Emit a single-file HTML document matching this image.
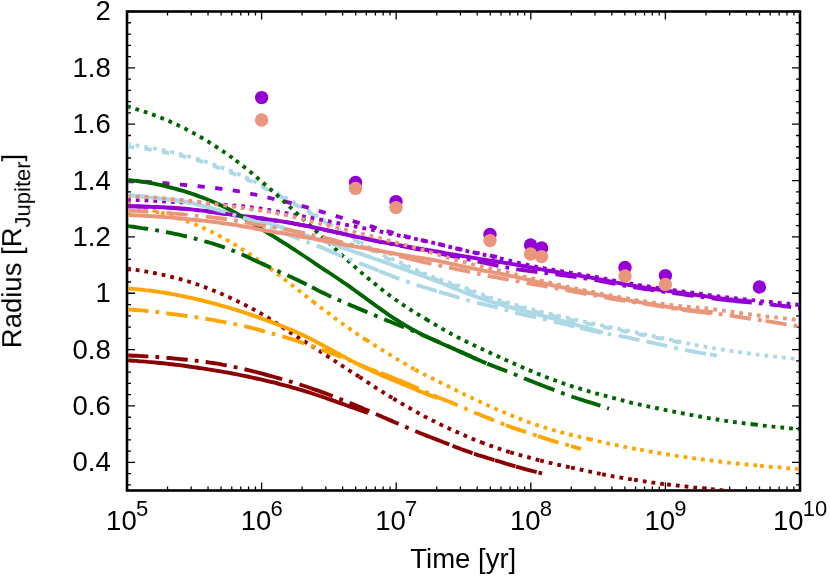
<!DOCTYPE html>
<html><head><meta charset="utf-8"><title>Radius evolution</title>
<style>html,body{margin:0;padding:0;background:#fff}svg{display:block}text{font-family:"Liberation Sans",sans-serif;fill:#000}</style></head><body>
<svg width="830" height="576" viewBox="0 0 830 576">
<rect width="830" height="576" fill="#fff"/>
<defs><clipPath id="cp"><rect x="128.2" y="11.5" width="670.8" height="478.8"/></clipPath></defs>
<path d="M127.0,484.86 h4.0 M800.0,484.86 h-4.0 M127.0,473.59 h4.0 M800.0,473.59 h-4.0 M127.0,462.32 h8.0 M800.0,462.32 h-8.0 M127.0,451.05 h4.0 M800.0,451.05 h-4.0 M127.0,439.78 h4.0 M800.0,439.78 h-4.0 M127.0,428.51 h4.0 M800.0,428.51 h-4.0 M127.0,417.24 h4.0 M800.0,417.24 h-4.0 M127.0,405.97 h8.0 M800.0,405.97 h-8.0 M127.0,394.70 h4.0 M800.0,394.70 h-4.0 M127.0,383.43 h4.0 M800.0,383.43 h-4.0 M127.0,372.16 h4.0 M800.0,372.16 h-4.0 M127.0,360.89 h4.0 M800.0,360.89 h-4.0 M127.0,349.62 h8.0 M800.0,349.62 h-8.0 M127.0,338.35 h4.0 M800.0,338.35 h-4.0 M127.0,327.08 h4.0 M800.0,327.08 h-4.0 M127.0,315.81 h4.0 M800.0,315.81 h-4.0 M127.0,304.54 h4.0 M800.0,304.54 h-4.0 M127.0,293.26 h8.0 M800.0,293.26 h-8.0 M127.0,281.99 h4.0 M800.0,281.99 h-4.0 M127.0,270.72 h4.0 M800.0,270.72 h-4.0 M127.0,259.45 h4.0 M800.0,259.45 h-4.0 M127.0,248.18 h4.0 M800.0,248.18 h-4.0 M127.0,236.91 h8.0 M800.0,236.91 h-8.0 M127.0,225.64 h4.0 M800.0,225.64 h-4.0 M127.0,214.37 h4.0 M800.0,214.37 h-4.0 M127.0,203.10 h4.0 M800.0,203.10 h-4.0 M127.0,191.83 h4.0 M800.0,191.83 h-4.0 M127.0,180.56 h8.0 M800.0,180.56 h-8.0 M127.0,169.29 h4.0 M800.0,169.29 h-4.0 M127.0,158.02 h4.0 M800.0,158.02 h-4.0 M127.0,146.75 h4.0 M800.0,146.75 h-4.0 M127.0,135.48 h4.0 M800.0,135.48 h-4.0 M127.0,124.21 h8.0 M800.0,124.21 h-8.0 M127.0,112.94 h4.0 M800.0,112.94 h-4.0 M127.0,101.66 h4.0 M800.0,101.66 h-4.0 M127.0,90.39 h4.0 M800.0,90.39 h-4.0 M127.0,79.12 h4.0 M800.0,79.12 h-4.0 M127.0,67.85 h8.0 M800.0,67.85 h-8.0 M127.0,56.58 h4.0 M800.0,56.58 h-4.0 M127.0,45.31 h4.0 M800.0,45.31 h-4.0 M127.0,34.04 h4.0 M800.0,34.04 h-4.0 M127.0,22.77 h4.0 M800.0,22.77 h-4.0 M127.0,11.50 h8.0 M800.0,11.50 h-8.0 M127.00,490.5 v-8.0 M127.00,11.5 v8.0 M167.52,490.5 v-4.0 M167.52,11.5 v4.0 M191.22,490.5 v-4.0 M191.22,11.5 v4.0 M208.04,490.5 v-4.0 M208.04,11.5 v4.0 M221.08,490.5 v-4.0 M221.08,11.5 v4.0 M231.74,490.5 v-4.0 M231.74,11.5 v4.0 M240.75,490.5 v-4.0 M240.75,11.5 v4.0 M248.56,490.5 v-4.0 M248.56,11.5 v4.0 M255.44,490.5 v-4.0 M255.44,11.5 v4.0 M261.60,490.5 v-8.0 M261.60,11.5 v8.0 M302.12,490.5 v-4.0 M302.12,11.5 v4.0 M325.82,490.5 v-4.0 M325.82,11.5 v4.0 M342.64,490.5 v-4.0 M342.64,11.5 v4.0 M355.68,490.5 v-4.0 M355.68,11.5 v4.0 M366.34,490.5 v-4.0 M366.34,11.5 v4.0 M375.35,490.5 v-4.0 M375.35,11.5 v4.0 M383.16,490.5 v-4.0 M383.16,11.5 v4.0 M390.04,490.5 v-4.0 M390.04,11.5 v4.0 M396.20,490.5 v-8.0 M396.20,11.5 v8.0 M436.72,490.5 v-4.0 M436.72,11.5 v4.0 M460.42,490.5 v-4.0 M460.42,11.5 v4.0 M477.24,490.5 v-4.0 M477.24,11.5 v4.0 M490.28,490.5 v-4.0 M490.28,11.5 v4.0 M500.94,490.5 v-4.0 M500.94,11.5 v4.0 M509.95,490.5 v-4.0 M509.95,11.5 v4.0 M517.76,490.5 v-4.0 M517.76,11.5 v4.0 M524.64,490.5 v-4.0 M524.64,11.5 v4.0 M530.80,490.5 v-8.0 M530.80,11.5 v8.0 M571.32,490.5 v-4.0 M571.32,11.5 v4.0 M595.02,490.5 v-4.0 M595.02,11.5 v4.0 M611.84,490.5 v-4.0 M611.84,11.5 v4.0 M624.88,490.5 v-4.0 M624.88,11.5 v4.0 M635.54,490.5 v-4.0 M635.54,11.5 v4.0 M644.55,490.5 v-4.0 M644.55,11.5 v4.0 M652.36,490.5 v-4.0 M652.36,11.5 v4.0 M659.24,490.5 v-4.0 M659.24,11.5 v4.0 M665.40,490.5 v-8.0 M665.40,11.5 v8.0 M705.92,490.5 v-4.0 M705.92,11.5 v4.0 M729.62,490.5 v-4.0 M729.62,11.5 v4.0 M746.44,490.5 v-4.0 M746.44,11.5 v4.0 M759.48,490.5 v-4.0 M759.48,11.5 v4.0 M770.14,490.5 v-4.0 M770.14,11.5 v4.0 M779.15,490.5 v-4.0 M779.15,11.5 v4.0 M786.96,490.5 v-4.0 M786.96,11.5 v4.0 M793.84,490.5 v-4.0 M793.84,11.5 v4.0 M800.00,490.5 v-8.0 M800.00,11.5 v8.0" stroke="#000" stroke-width="1.3" fill="none"/>
<rect x="127.0" y="11.5" width="673.0" height="479.0" fill="none" stroke="#000" stroke-width="2.6"/>
<g fill="none" stroke-width="3.9" stroke-linejoin="round" clip-path="url(#cp)">
<path d="M127.0,144.0 L130.0,144.4 L133.0,144.9 L136.0,145.3 L139.0,145.8 L142.0,146.3 L145.0,146.8 L148.0,147.3 L151.0,147.8 L154.0,148.4 L157.0,149.0 L160.0,149.6 L163.1,150.2 L166.1,150.8 L169.1,151.5 L172.1,152.2 L175.1,152.9 L178.1,153.6 L181.1,154.4 L184.1,155.2 L187.1,156.0 L190.1,156.9 L193.1,157.7 L196.1,158.6 L199.1,159.5 L202.1,160.5 L205.1,161.5 L208.1,162.6 L211.1,163.6 L214.1,164.7 L217.1,165.8 L220.1,166.9 L223.1,168.1 L226.1,169.3 L229.2,170.4 L232.2,171.6 L235.2,172.8 L238.2,174.0 L241.2,175.3 L244.2,176.6 L247.2,178.0 L250.2,179.5 L253.2,180.9 L256.2,182.5 L259.2,184.0 L262.2,185.5 L265.2,187.1 L268.2,188.6 L271.2,190.1 L274.2,191.6 L277.2,193.1 L280.2,194.7 L283.2,196.2 L286.2,197.9 L289.2,199.6 L292.2,201.3 L295.2,203.0 L298.3,204.8 L301.3,206.6 L304.3,208.4 L307.3,210.2 L310.3,211.9 L313.3,213.7 L316.3,215.5 L319.3,217.4 L322.3,219.2 L325.3,221.1 L328.3,222.9 L331.3,224.8 L334.3,226.6 L337.3,228.5 L340.3,230.3 L343.3,232.1 L346.3,233.8 L349.3,235.6 L352.3,237.3 L355.3,239.1 L358.3,240.9 L361.3,242.7 L364.4,244.5 L367.4,246.2 L370.4,248.0 L373.4,249.7 L376.4,251.3 L379.4,252.9 L382.4,254.4 L385.4,255.9 L388.4,257.3 L391.4,258.6 L394.4,260.0 L397.4,261.3 L400.4,262.6 L403.4,264.0 L406.4,265.4 L409.4,266.8 L412.4,268.2 L415.4,269.6 L418.4,271.0 L421.4,272.3 L424.4,273.6 L427.4,274.8 L430.5,276.0 L433.5,277.2 L436.5,278.3 L439.5,279.4 L442.5,280.4 L445.5,281.4 L448.5,282.4 L451.5,283.3 L454.5,284.3 L457.5,285.3 L460.5,286.3 L463.5,287.3 L466.5,288.4 L469.5,289.5 L472.5,290.7 L475.5,291.9 L478.5,293.0 L481.5,294.2 L484.5,295.3 L487.5,296.4 L490.5,297.5 L493.5,298.5 L496.5,299.4 L499.6,300.3 L502.6,301.2 L505.6,302.0 L508.6,302.9 L511.6,303.7 L514.6,304.6 L517.6,305.4 L520.6,306.2 L523.6,307.1 L526.6,307.9 L529.6,308.7 L532.6,309.5 L535.6,310.3 L538.6,311.0 L541.6,311.8 L544.6,312.5 L547.6,313.2 L550.6,313.9 L553.6,314.6 L556.6,315.3 L559.6,316.0 L562.6,316.7 L565.7,317.4 L568.7,318.1 L571.7,318.8 L574.7,319.5 L577.7,320.2 L580.7,320.9 L583.7,321.6 L586.7,322.2 L589.7,322.9 L592.7,323.5 L595.7,324.2 L598.7,324.8 L601.7,325.4 L604.7,326.0 L607.7,326.6 L610.7,327.2 L613.7,327.9 L616.7,328.5 L619.7,329.1 L622.7,329.7 L625.7,330.3 L628.7,330.9 L631.8,331.6 L634.8,332.2 L637.8,332.8 L640.8,333.5 L643.8,334.1 L646.8,334.8 L649.8,335.4 L652.8,336.0 L655.8,336.6 L658.8,337.2 L661.8,337.8 L664.8,338.4 L667.8,339.0 L670.8,339.7 L673.8,340.3 L676.8,341.0 L679.8,341.6 L682.8,342.3 L685.8,343.0 L688.8,343.6 L691.8,344.3 L694.8,344.9 L697.8,345.5 L700.9,346.1 L703.9,346.6 L706.9,347.1 L709.9,347.6 L712.9,348.1 L715.9,348.6 L718.9,349.1 L721.9,349.5 L724.9,350.0 L727.9,350.5 L730.9,350.9 L733.9,351.4 L736.9,351.8 L739.9,352.2 L742.9,352.6 L745.9,353.1 L748.9,353.5 L751.9,353.9 L754.9,354.2 L757.9,354.6 L760.9,355.0 L763.9,355.3 L767.0,355.7 L770.0,356.0 L773.0,356.4 L776.0,356.7 L779.0,357.0 L782.0,357.4 L785.0,357.7 L788.0,358.1 L791.0,358.4 L794.0,358.8 L797.0,359.1 L800.0,359.5" stroke="#add8e6" stroke-dasharray="3.8 5.0"/>
<path d="M127.0,146.8 L130.0,147.1 L133.0,147.4 L136.0,147.8 L139.0,148.1 L142.0,148.5 L145.0,148.9 L148.0,149.4 L151.0,149.8 L154.0,150.3 L156.9,150.8 L159.9,151.4 L162.9,151.9 L165.9,152.5 L168.9,153.1 L171.9,153.7 L174.9,154.4 L177.9,155.0 L180.9,155.7 L183.9,156.4 L186.9,157.2 L189.9,158.0 L192.9,158.9 L195.9,159.8 L198.9,160.7 L201.9,161.7 L204.9,162.7 L207.9,163.8 L210.9,164.9 L213.8,166.0 L216.8,167.2 L219.8,168.3 L222.8,169.5 L225.8,170.6 L228.8,171.8 L231.8,173.0 L234.8,174.2 L237.8,175.4 L240.8,176.6 L243.8,177.9 L246.8,179.3 L249.8,180.8 L252.8,182.2 L255.8,183.8 L258.8,185.3 L261.8,186.8 L264.8,188.4 L267.8,189.9 L270.7,191.4 L273.7,192.9 L276.7,194.4 L279.7,195.9 L282.7,197.5 L285.7,199.1 L288.7,200.8 L291.7,202.5 L294.7,204.2 L297.7,206.0 L300.7,207.8 L303.7,209.6 L306.7,211.3 L309.7,213.1 L312.7,214.9 L315.7,216.7 L318.7,218.5 L321.7,220.3 L324.6,222.2 L327.6,224.0 L330.6,225.9 L333.6,227.7 L336.6,229.6 L339.6,231.4 L342.6,233.2 L345.6,234.9 L348.6,236.7 L351.6,238.4 L354.6,240.2 L357.6,241.9 L360.6,243.7 L363.6,245.5 L366.6,247.2 L369.6,249.0 L372.6,250.7 L375.6,252.4 L378.6,254.0 L381.5,255.6 L384.5,257.1 L387.5,258.5 L390.5,259.9 L393.5,261.2 L396.5,262.6 L399.5,263.9 L402.5,265.2 L405.5,266.5 L408.5,267.9 L411.5,269.3 L414.5,270.7 L417.5,272.0 L420.5,273.4 L423.5,274.7 L426.5,275.9 L429.5,277.1 L432.5,278.3 L435.5,279.4 L438.4,280.5 L441.4,281.5 L444.4,282.5 L447.4,283.5 L450.4,284.5 L453.4,285.4 L456.4,286.4 L459.4,287.4 L462.4,288.4 L465.4,289.5 L468.4,290.6 L471.4,291.8 L474.4,292.9 L477.4,294.1 L480.4,295.2 L483.4,296.4 L486.4,297.5 L489.4,298.6 L492.4,299.6 L495.3,300.5 L498.3,301.5 L501.3,302.3 L504.3,303.2 L507.3,304.0 L510.3,304.9 L513.3,305.7 L516.3,306.5 L519.3,307.4 L522.3,308.2 L525.3,309.0 L528.3,309.8 L531.3,310.6 L534.3,311.4 L537.3,312.1 L540.3,312.9 L543.3,313.6 L546.3,314.3 L549.2,315.0 L552.2,315.7 L555.2,316.4 L558.2,317.0 L561.2,317.7 L564.2,318.4 L567.2,319.1 L570.2,319.8 L573.2,320.5 L576.2,321.2 L579.2,321.9 L582.2,322.5 L585.2,323.2 L588.2,323.8 L591.2,324.4 L594.2,325.1 L597.2,325.7 L600.2,326.3 L603.2,326.9 L606.1,327.5 L609.1,328.1 L612.1,328.7 L615.1,329.3 L618.1,330.0 L621.1,330.6 L624.1,331.2 L627.1,331.8 L630.1,332.4 L633.1,333.0 L636.1,333.6 L639.1,334.3 L642.1,334.9 L645.1,335.5 L648.1,336.1 L651.1,336.7 L654.1,337.3 L657.1,337.9 L660.1,338.5 L663.0,339.0 L666.0,339.6 L669.0,340.2 L672.0,340.8 L675.0,341.4 L678.0,342.0 L681.0,342.6 L684.0,343.3 L687.0,343.9 L690.0,344.5" stroke="#add8e6" stroke-dasharray="7.2 10.5"/>
<path d="M127.0,199.7 L130.0,199.8 L133.0,199.9 L136.0,200.0 L139.0,200.1 L142.0,200.3 L145.0,200.4 L148.0,200.5 L151.0,200.7 L154.0,200.9 L157.0,201.0 L160.0,201.2 L163.1,201.4 L166.1,201.6 L169.1,201.7 L172.1,201.9 L175.1,202.0 L178.1,202.2 L181.1,202.3 L184.1,202.4 L187.1,202.5 L190.1,202.6 L193.1,202.7 L196.1,202.8 L199.1,202.9 L202.1,203.1 L205.1,203.2 L208.1,203.4 L211.1,203.7 L214.1,203.9 L217.1,204.1 L220.1,204.4 L223.1,204.6 L226.1,204.9 L229.2,205.1 L232.2,205.4 L235.2,205.6 L238.2,205.9 L241.2,206.2 L244.2,206.5 L247.2,206.8 L250.2,207.2 L253.2,207.6 L256.2,208.0 L259.2,208.5 L262.2,209.0 L265.2,209.5 L268.2,210.0 L271.2,210.5 L274.2,211.1 L277.2,211.6 L280.2,212.1 L283.2,212.7 L286.2,213.2 L289.2,213.8 L292.2,214.4 L295.2,215.0 L298.3,215.5 L301.3,216.1 L304.3,216.6 L307.3,217.2 L310.3,217.7 L313.3,218.3 L316.3,218.8 L319.3,219.4 L322.3,220.0 L325.3,220.6 L328.3,221.2 L331.3,221.8 L334.3,222.4 L337.3,223.0 L340.3,223.6 L343.3,224.2 L346.3,224.8 L349.3,225.4 L352.3,225.9 L355.3,226.5 L358.3,227.1 L361.3,227.7 L364.4,228.3 L367.4,228.9 L370.4,229.5 L373.4,230.1 L376.4,230.7 L379.4,231.4 L382.4,232.0 L385.4,232.7 L388.4,233.3 L391.4,234.0 L394.4,234.6 L397.4,235.2 L400.4,235.9 L403.4,236.5 L406.4,237.1 L409.4,237.7 L412.4,238.3 L415.4,238.9 L418.4,239.5 L421.4,240.2 L424.4,240.8 L427.4,241.5 L430.5,242.2 L433.5,242.9 L436.5,243.6 L439.5,244.3 L442.5,245.1 L445.5,245.8 L448.5,246.5 L451.5,247.3 L454.5,248.0 L457.5,248.7 L460.5,249.5 L463.5,250.2 L466.5,250.9 L469.5,251.6 L472.5,252.3 L475.5,252.9 L478.5,253.6 L481.5,254.3 L484.5,254.9 L487.5,255.6 L490.5,256.2 L493.5,256.9 L496.5,257.6 L499.6,258.3 L502.6,259.0 L505.6,259.7 L508.6,260.4 L511.6,261.2 L514.6,261.9 L517.6,262.6 L520.6,263.3 L523.6,264.0 L526.6,264.7 L529.6,265.4 L532.6,266.0 L535.6,266.6 L538.6,267.2 L541.6,267.7 L544.6,268.3 L547.6,268.8 L550.6,269.4 L553.6,269.9 L556.6,270.4 L559.6,270.9 L562.6,271.4 L565.7,271.9 L568.7,272.3 L571.7,272.8 L574.7,273.3 L577.7,273.8 L580.7,274.3 L583.7,274.8 L586.7,275.3 L589.7,275.8 L592.7,276.3 L595.7,276.9 L598.7,277.5 L601.7,278.1 L604.7,278.7 L607.7,279.3 L610.7,279.9 L613.7,280.5 L616.7,281.0 L619.7,281.6 L622.7,282.2 L625.7,282.7 L628.7,283.3 L631.8,283.8 L634.8,284.3 L637.8,284.8 L640.8,285.3 L643.8,285.8 L646.8,286.2 L649.8,286.7 L652.8,287.2 L655.8,287.6 L658.8,288.1 L661.8,288.5 L664.8,288.9 L667.8,289.4 L670.8,289.8 L673.8,290.2 L676.8,290.6 L679.8,291.1 L682.8,291.5 L685.8,291.9 L688.8,292.3 L691.8,292.7 L694.8,293.1 L697.8,293.6 L700.9,294.0 L703.9,294.4 L706.9,294.8 L709.9,295.2 L712.9,295.6 L715.9,296.0 L718.9,296.4 L721.9,296.8 L724.9,297.2 L727.9,297.5 L730.9,297.9 L733.9,298.2 L736.9,298.5 L739.9,298.8 L742.9,299.1 L745.9,299.5 L748.9,299.8 L751.9,300.1 L754.9,300.4 L757.9,300.7 L760.9,301.1 L763.9,301.4 L767.0,301.7 L770.0,302.0 L773.0,302.3 L776.0,302.6 L779.0,302.9 L782.0,303.2 L785.0,303.5 L788.0,303.8 L791.0,304.1 L794.0,304.4 L797.0,304.7 L800.0,305.0" stroke="#9400d3" stroke-dasharray="3.8 5.0"/>
<path d="M127.0,181.3 L130.0,181.4 L133.0,181.4 L136.0,181.5 L139.0,181.6 L141.9,181.7 L144.9,181.8 L147.9,182.0 L150.9,182.2 L153.9,182.4 L156.9,182.6 L159.9,182.8 L162.9,183.1 L165.8,183.3 L168.8,183.6 L171.8,183.9 L174.8,184.1 L177.8,184.4 L180.8,184.6 L183.8,184.9 L186.8,185.2 L189.8,185.5 L192.7,185.7 L195.7,186.0 L198.7,186.3 L201.7,186.6 L204.7,186.9 L207.7,187.2 L210.7,187.6 L213.7,187.9 L216.6,188.2 L219.6,188.6 L222.6,189.0 L225.6,189.4 L228.6,189.8 L231.6,190.2 L234.6,190.7 L237.6,191.2 L240.5,191.7 L243.5,192.3 L246.5,192.8 L249.5,193.4 L252.5,194.1 L255.5,194.7 L258.5,195.4 L261.5,196.0 L264.5,196.7 L267.4,197.4 L270.4,198.1 L273.4,198.8 L276.4,199.5 L279.4,200.2 L282.4,201.0 L285.4,201.7 L288.4,202.4 L291.3,203.2 L294.3,204.0 L297.3,204.8 L300.3,205.6 L303.3,206.4 L306.3,207.2 L309.3,208.1 L312.3,208.9 L315.2,209.8 L318.2,210.7 L321.2,211.6 L324.2,212.5 L327.2,213.4 L330.2,214.3 L333.2,215.2 L336.2,216.1 L339.2,217.0 L342.1,217.9 L345.1,218.8 L348.1,219.7 L351.1,220.6 L354.1,221.5 L357.1,222.3 L360.1,223.2 L363.1,224.1 L366.0,224.9 L369.0,225.8 L372.0,226.7 L375.0,227.6 L378.0,228.5 L381.0,229.3 L384.0,230.2 L387.0,231.1 L390.0,232.0 L392.9,232.8 L395.9,233.7 L398.9,234.6 L401.9,235.4 L404.9,236.2 L407.9,237.0 L410.9,237.7 L413.9,238.4 L416.8,239.1 L419.8,239.8 L422.8,240.5 L425.8,241.2 L428.8,241.8 L431.8,242.5 L434.8,243.2 L437.8,243.9 L440.8,244.6 L443.7,245.4 L446.7,246.1 L449.7,246.9 L452.7,247.6 L455.7,248.3 L458.7,249.0 L461.7,249.7 L464.7,250.4 L467.6,251.0 L470.6,251.6 L473.6,252.3 L476.6,252.9 L479.6,253.4 L482.6,254.0 L485.6,254.6 L488.6,255.2 L491.5,255.8 L494.5,256.3 L497.5,256.9 L500.5,257.4 L503.5,258.0" stroke="#9400d3" stroke-dasharray="7.2 10.5"/>
<path d="M127.0,268.6 L130.0,269.0 L133.0,269.5 L136.0,269.9 L139.0,270.4 L142.0,270.9 L145.0,271.4 L148.0,271.9 L151.0,272.5 L154.0,273.0 L157.0,273.6 L160.0,274.3 L163.0,274.9 L166.0,275.6 L169.0,276.3 L172.0,277.0 L175.0,277.8 L178.0,278.5 L181.0,279.4 L184.0,280.2 L187.0,281.1 L190.0,282.0 L193.0,283.0 L196.0,284.0 L199.0,285.0 L202.0,286.1 L205.0,287.2 L208.0,288.4 L211.0,289.5 L214.0,290.7 L217.0,292.0 L220.0,293.2 L223.0,294.5 L226.0,295.9 L229.0,297.2 L232.0,298.6 L235.0,300.1 L238.0,301.5 L241.0,303.0 L244.0,304.5 L247.0,306.0 L250.0,307.5 L253.0,309.1 L256.0,310.7 L259.0,312.4 L262.0,314.1 L265.0,315.8 L268.0,317.7 L271.0,319.6 L274.0,321.6 L277.0,323.6 L280.0,325.6 L283.0,327.6 L286.0,329.6 L289.0,331.6 L292.0,333.6 L295.0,335.5 L298.0,337.4 L301.0,339.3 L304.0,341.2 L307.0,343.0 L310.0,344.9 L313.0,346.8 L316.0,348.8 L319.0,350.7 L322.0,352.6 L325.0,354.6 L328.0,356.5 L331.0,358.5 L334.0,360.5 L337.0,362.5 L340.0,364.5 L343.0,366.4 L346.0,368.3 L349.0,370.3 L352.0,372.2 L355.0,374.1 L358.0,376.0 L359.4,376.9 M359.4,376.9 L361.0,377.9 L364.0,379.9 L367.0,381.8 L370.0,383.8 L373.0,385.8 L376.0,387.8 L379.0,389.7 L382.0,391.6 L385.0,393.5 L388.0,395.4 L391.0,397.2 L393.4,398.6 M393.4,398.6 L394.0,399.0 L397.0,400.8 L400.0,402.6 L403.0,404.3 L406.0,406.1 L409.0,407.8 L412.0,409.5 L415.0,411.2 L418.0,412.9 L421.0,414.6 L424.0,416.2 L427.0,417.7 L430.0,419.3 L433.0,420.8 L436.0,422.3 L439.0,423.8 L442.0,425.2 L445.0,426.6 L448.0,428.0 L451.0,429.4 L454.0,430.8 L457.0,432.1 L460.0,433.5 L463.0,434.8 L466.0,436.1 L469.0,437.4 L472.0,438.7 L475.0,439.9 L478.0,441.1 L481.0,442.2 L481.2,442.3 M481.2,442.3 L484.0,443.4 L487.0,444.5 L490.0,445.6 L493.0,446.6 L496.0,447.7 L499.0,448.7 L502.0,449.7 L505.0,450.7 L508.0,451.6 L510.2,452.3 M510.2,452.3 L511.0,452.5 L514.0,453.4 L517.0,454.3 L520.0,455.1 L523.0,455.9 L526.0,456.7 L529.0,457.5 L532.0,458.3 L535.0,459.1 L538.0,459.9 L540.2,460.5 M540.2,460.5 L541.0,460.7 L544.0,461.5 L547.0,462.2 L550.0,462.9 L553.0,463.6 L556.0,464.4 L559.0,465.0 L562.0,465.7 L565.0,466.3 L568.0,466.9 L571.0,467.6 L571.1,467.6 M571.1,467.6 L574.0,468.2 L577.0,468.9 L580.0,469.5 L583.0,470.1 L586.0,470.8 L589.0,471.4 L592.0,472.1 L595.0,472.7 L598.0,473.3 L601.0,474.0 L602.1,474.2 M602.1,474.2 L604.0,474.6 L607.0,475.2 L610.0,475.7 L613.0,476.3 L616.0,476.8 L619.0,477.3 L622.0,477.8 L625.0,478.3 L628.0,478.8 L631.0,479.3 L634.0,479.8 L634.1,479.8 M634.1,479.8 L637.0,480.2 L640.0,480.7 L643.0,481.1 L646.0,481.6 L649.0,482.0 L652.0,482.5 L655.0,482.9 L658.0,483.3 L661.0,483.7 L664.0,484.1 L667.0,484.4 L667.1,484.4 M667.1,484.4 L670.0,484.8 L673.0,485.1 L676.0,485.4 L679.0,485.7 L682.0,486.1 L685.0,486.4 L688.0,486.7 L691.0,487.0 L694.0,487.4 L697.0,487.7 L700.0,488.0 L703.0,488.3 L706.0,488.6 L709.0,488.9 L712.0,489.2 L715.0,489.5 L718.0,489.8 L721.0,490.1 L724.0,490.4 L727.0,490.7" stroke="#8b0000" stroke-dasharray="3.8 5.0"/>
<path d="M127.0,203.5 L130.0,204.3 L133.0,205.1 L136.0,205.9 L139.0,206.6 L142.0,207.4 L145.0,208.2 L148.0,209.0 L151.0,209.8 L154.0,210.6 L157.0,211.4 L160.0,212.3 L163.1,213.2 L166.1,214.1 L169.1,215.0 L172.1,216.0 L175.1,217.0 L178.1,218.0 L181.1,219.1 L184.1,220.2 L187.1,221.3 L190.1,222.4 L193.1,223.6 L196.1,224.8 L199.1,226.0 L202.1,227.3 L205.1,228.7 L208.1,230.1 L211.1,231.5 L214.1,233.1 L217.1,234.6 L220.1,236.3 L223.1,237.9 L226.1,239.6 L229.2,241.3 L232.2,243.1 L235.2,244.9 L238.2,246.8 L241.2,248.7 L244.2,250.7 L247.2,252.6 L250.2,254.6 L253.2,256.6 L256.2,258.7 L259.2,260.7 L262.2,262.8 L265.2,264.9 L268.2,267.1 L271.2,269.2 L274.2,271.5 L277.2,273.7 L280.2,276.0 L283.2,278.4 L286.2,280.7 L289.2,283.1 L292.2,285.4 L295.2,287.8 L298.3,290.1 L301.3,292.5 L304.3,294.8 L307.3,297.1 L310.3,299.5 L313.1,301.6 M313.1,301.6 L313.3,301.8 L316.3,304.1 L319.3,306.4 L322.3,308.7 L325.3,310.9 L328.3,313.2 L331.3,315.4 L334.3,317.7 L337.3,319.9 L340.3,322.2 L343.3,324.3 L346.3,326.5 L349.3,328.6 L352.3,330.7 L355.3,332.8 L358.3,334.8 L361.3,336.8 L364.4,338.8 L366.0,339.8 M366.0,339.8 L367.4,340.7 L370.4,342.6 L373.4,344.5 L376.4,346.4 L379.4,348.3 L382.4,350.2 L385.4,352.1 L388.4,353.9 L391.4,355.7 L394.4,357.6 L397.4,359.4 L400.4,361.2 L403.4,362.9 L406.4,364.7 L409.4,366.4 L412.4,368.1 L415.3,369.7 M415.3,369.7 L415.4,369.8 L418.4,371.5 L421.4,373.0 L424.4,374.6 L427.4,376.1 L430.5,377.6 L433.5,379.1 L436.5,380.6 L439.5,382.1 L442.5,383.5 L445.5,385.0 L448.5,386.5 L451.5,388.0 L454.5,389.5 L457.5,391.0 L460.5,392.4 L463.5,393.9 L466.5,395.4 L469.5,396.8 L472.5,398.2 L475.5,399.6 L478.5,401.0 L481.5,402.4 L484.5,403.8 L487.5,405.2 L490.5,406.6 L493.5,407.9 L496.5,409.2 L499.6,410.5 L502.6,411.8 L505.6,413.0 L508.6,414.3 L511.6,415.5 L514.6,416.7 L517.6,417.9 L520.6,419.1 L523.6,420.3 L526.6,421.4 L529.6,422.5 L532.6,423.6 L535.6,424.6 L538.6,425.6 L541.6,426.6 L544.6,427.5 L547.6,428.4 L550.6,429.3 L553.6,430.2 L556.6,431.0 L559.6,431.8 L562.6,432.7 L565.7,433.5 L568.7,434.2 L571.7,435.0 L574.7,435.7 L577.7,436.4 L580.7,437.1 L583.7,437.8 L586.7,438.5 L589.1,439.1 M589.1,439.1 L589.7,439.2 L592.7,439.9 L595.7,440.6 L598.7,441.3 L601.7,441.9 L604.7,442.6 L607.7,443.3 L610.7,443.9 L613.7,444.6 L616.7,445.2 L619.7,445.8 L622.7,446.5 L625.7,447.1 L628.7,447.7 L631.8,448.2 L634.8,448.8 L637.8,449.4 L640.1,449.8 M640.1,449.8 L640.8,449.9 L643.8,450.4 L646.8,451.0 L649.8,451.5 L652.8,452.0 L655.8,452.5 L658.8,453.0 L661.8,453.5 L664.8,454.0 L667.8,454.5 L670.8,455.0 L673.8,455.4 L676.8,455.9 L679.8,456.3 L682.8,456.7 L685.8,457.2 L688.8,457.6 L691.8,458.0 L694.8,458.4 L697.8,458.8 L700.9,459.2 L703.9,459.6 L706.9,460.0 L709.9,460.4 L712.9,460.8 L715.9,461.2 L718.9,461.5 L721.9,461.9 L724.9,462.2 L727.9,462.6 L730.9,462.9 L733.9,463.2 L736.9,463.5 L739.9,463.8 L742.9,464.1 L745.9,464.4 L748.9,464.7 L751.9,465.0 L754.9,465.3 L757.9,465.6 L760.1,465.8 M760.1,465.8 L760.9,465.9 L763.9,466.1 L767.0,466.4 L770.0,466.7 L773.0,466.9 L776.0,467.2 L779.0,467.4 L782.0,467.7 L785.0,467.9 L788.0,468.2 L791.0,468.4 L794.0,468.7 L797.0,468.9 L800.0,469.2" stroke="#ffa500" stroke-dasharray="3.8 5.0"/>
<path d="M127.0,106.3 L130.0,107.2 L133.0,108.1 L136.0,109.1 L139.0,110.0 L142.0,111.0 L145.0,111.9 L148.0,113.0 L151.0,114.0 L154.0,115.1 L157.0,116.2 L160.0,117.4 L163.1,118.6 L166.1,119.8 L169.1,121.1 L172.1,122.5 L175.1,123.9 L178.1,125.3 L181.1,126.7 L184.1,128.2 L187.1,129.7 L190.1,131.3 L193.1,132.9 L196.1,134.5 L199.1,136.2 L202.1,138.0 L205.1,139.8 L208.1,141.6 L211.1,143.5 L214.1,145.4 L217.1,147.4 L220.1,149.4 L223.1,151.4 L226.1,153.5 L229.2,155.6 L232.2,157.8 L235.2,160.0 L235.8,160.5 M235.8,160.5 L238.2,162.3 L241.2,164.6 L244.2,167.0 L247.2,169.4 L250.2,171.8 L253.2,174.3 L256.2,176.9 L259.2,179.4 L262.2,182.0 L265.2,184.7 L268.2,187.3 L271.2,190.0 L274.2,192.6 L277.2,195.3 L280.2,198.1 L283.2,200.8 L286.2,203.6 L289.2,206.3 L292.2,209.1 L295.2,211.9 L298.3,214.7 L301.3,217.5 L304.3,220.2 L307.3,223.0 L310.3,225.7 L313.3,228.4 L316.3,231.2 L319.3,233.9 L322.3,236.7 L325.3,239.5 L328.3,242.3 L331.3,245.1 L334.3,247.9 L337.3,250.8 L340.3,253.6 L343.3,256.4 L346.3,259.2 L349.3,261.9 L352.3,264.7 L355.3,267.3 L358.3,270.0 L361.3,272.6 L364.4,275.2 L367.4,277.7 L370.4,280.2 L373.4,282.7 L376.4,285.1 L379.4,287.5 L382.4,289.9 L385.4,292.2 L388.4,294.5 L391.4,296.7 L394.4,298.9 L397.4,301.0 L400.4,303.1 L403.4,305.1 L406.4,307.1 L409.4,309.0 L412.4,310.9 L415.4,312.8 L418.4,314.6 L421.4,316.4 L424.4,318.2 L426.4,319.4 M426.4,319.4 L427.4,320.0 L430.5,321.8 L433.5,323.6 L436.5,325.4 L439.5,327.1 L442.5,328.9 L445.5,330.6 L448.5,332.3 L451.5,334.0 L454.5,335.6 L457.5,337.2 L460.5,338.7 L463.5,340.2 L466.5,341.7 L469.5,343.1 L472.5,344.6 L475.5,346.0 L478.5,347.4 L481.5,348.8 L484.5,350.2 L487.5,351.6 L490.5,353.0 L493.5,354.4 L496.5,355.8 L499.6,357.1 L502.6,358.5 L505.6,359.9 L508.6,361.2 L511.6,362.5 L514.6,363.9 L517.6,365.2 L520.6,366.5 L523.6,367.9 L526.6,369.2 L529.6,370.4 L532.6,371.7 L535.6,372.9 L538.6,374.1 L541.6,375.3 L544.6,376.5 L547.6,377.7 L550.6,378.8 L553.6,379.9 L556.6,381.0 L559.6,382.1 L562.6,383.2 L565.7,384.2 L568.7,385.2 L571.7,386.2 L574.7,387.1 L577.7,388.0 L580.7,388.9 L583.7,389.8 L586.7,390.7 L589.7,391.6 L592.7,392.4 L595.7,393.3 L598.7,394.1 L601.7,394.9 L604.7,395.7 L607.7,396.5 L610.7,397.3 L613.7,398.1 L616.7,398.9 L619.7,399.7 L622.7,400.5 L625.7,401.3 L628.7,402.0 L631.8,402.8 L634.8,403.5 L637.8,404.2 L640.8,404.9 L643.8,405.6 L646.8,406.2 L649.8,406.8 L652.8,407.4 L655.8,408.0 L658.8,408.6 L661.8,409.2 L664.8,409.8 L667.8,410.4 L670.8,411.0 L673.8,411.6 L676.8,412.2 L679.8,412.8 L682.8,413.4 L685.8,414.0 L688.8,414.6 L691.8,415.1 L694.8,415.7 L697.8,416.2 L700.9,416.7 L703.9,417.2 L706.9,417.8 L709.9,418.3 L712.9,418.8 L715.9,419.3 L718.9,419.7 L721.9,420.2 L724.9,420.7 L727.9,421.1 L730.9,421.6 L733.9,422.0 L736.9,422.4 L739.9,422.8 L742.9,423.1 L745.9,423.5 L748.9,423.9 L751.9,424.2 L754.1,424.5 M754.1,424.5 L754.9,424.5 L757.9,424.9 L760.9,425.2 L763.9,425.6 L767.0,425.9 L770.0,426.2 L773.0,426.6 L776.0,426.9 L779.0,427.2 L782.0,427.5 L785.0,427.8 L788.0,428.1 L791.0,428.4 L794.0,428.7 L797.0,428.9 L800.0,429.2" stroke="#006400" stroke-dasharray="3.8 5.0"/>
<path d="M127.0,360.3 L130.0,360.5 L133.0,360.7 L136.0,360.9 L139.1,361.2 L142.1,361.4 L145.1,361.6 L148.1,361.9 L151.1,362.1 L154.1,362.4 L157.1,362.7 L160.1,363.0 L163.2,363.3 L166.2,363.6 L169.2,364.0 L172.2,364.3 L175.2,364.7 L178.2,365.0 L181.2,365.4 L184.2,365.8 L187.2,366.2 L190.3,366.7 L193.3,367.1 L196.3,367.5 L199.3,368.0 L202.3,368.4 L205.3,368.9 L208.3,369.4 L211.4,369.8 L214.4,370.3 L217.4,370.8 L220.4,371.3 L223.4,371.9 L226.4,372.4 L229.4,372.9 L232.4,373.5 L235.4,374.1 L238.5,374.7 L241.5,375.3 L244.5,375.9 L247.5,376.5 L250.5,377.2 L253.5,377.8 L256.5,378.5 L259.6,379.2 L262.6,379.9 L265.6,380.6 L268.6,381.3 L271.6,382.0 L274.6,382.7 L277.6,383.5 L280.6,384.3 L283.6,385.1 L286.7,385.9 L289.7,386.7 L292.7,387.6 L295.7,388.4 L298.7,389.3 L301.7,390.2 L304.7,391.1 L307.8,392.1 L310.8,393.0 L313.8,394.0 L316.8,395.0 L319.8,396.0 L322.8,397.0 L325.8,398.0 L328.8,399.1 L331.9,400.1 L334.9,401.2 L337.9,402.3 L340.9,403.3 L343.9,404.4 L346.9,405.5 L349.9,406.6 L352.9,407.7 L356.0,408.7 L359.0,409.8 L362.0,410.9 L365.0,411.9 L368.0,413.0" stroke="#8b0000"/>
<path d="M127.0,288.3 L130.0,288.6 L133.0,288.9 L136.0,289.1 L139.1,289.4 L142.1,289.7 L145.1,290.1 L148.1,290.4 L151.1,290.8 L154.1,291.2 L157.1,291.6 L160.1,292.1 L163.2,292.5 L166.2,293.0 L169.2,293.5 L172.2,294.1 L175.2,294.6 L178.2,295.2 L181.2,295.8 L184.2,296.4 L187.3,297.1 L190.3,297.7 L193.3,298.4 L196.3,299.1 L199.3,299.8 L202.3,300.5 L205.3,301.3 L208.3,302.0 L211.4,302.8 L214.4,303.6 L217.4,304.4 L220.4,305.3 L223.4,306.1 L226.4,307.0 L229.4,307.9 L232.4,308.8 L235.5,309.7 L238.5,310.7 L241.5,311.6 L244.5,312.6 L247.5,313.6 L250.5,314.6 L253.5,315.7 L256.5,316.7 L259.6,317.8 L262.6,318.9 L265.6,320.0 L268.6,321.1 L271.6,322.2 L274.6,323.3 L277.6,324.5 L280.6,325.6 L283.7,326.8 L286.7,328.0 L289.7,329.3 L292.7,330.5 L295.7,331.8 L298.7,333.2 L301.7,334.6 L304.7,336.0 L307.8,337.5 L310.8,339.0 L313.8,340.5 L316.8,342.1 L319.8,343.7 L322.8,345.3 L325.8,346.9 L328.8,348.6 L331.9,350.2 L334.9,351.9 L337.9,353.5 L340.9,355.2 L343.9,356.8 L346.9,358.4 L349.9,360.0 L352.9,361.6 L356.0,363.2 L359.0,364.7 L362.0,366.2 L365.0,367.7 L368.0,369.1 L371.0,370.6 L374.0,372.0 L377.0,373.3 L380.1,374.7 L383.1,376.0 L386.1,377.3 L389.1,378.5 L392.1,379.8 L395.1,381.0 L398.1,382.2 L401.1,383.4 L404.2,384.7 L407.2,385.9 L410.2,387.2 L413.2,388.5 L416.2,389.8 L419.2,391.1 L422.2,392.3 L425.2,393.5 L428.3,394.6 L431.3,395.8 L434.3,396.8 L437.3,397.8" stroke="#ffa500"/>
<path d="M127.0,195.0 L130.0,195.3 L133.0,195.6 L136.0,195.9 L139.0,196.2 L142.0,196.5 L145.0,196.8 L148.0,197.1 L150.9,197.5 L153.9,197.8 L156.9,198.1 L159.9,198.5 L162.9,198.8 L165.9,199.1 L168.9,199.5 L171.9,199.9 L174.9,200.3 L177.9,200.7 L180.9,201.2 L183.9,201.7 L186.9,202.2 L189.9,202.8 L192.9,203.4 L195.9,204.1 L198.8,204.8 L201.8,205.6 L204.8,206.4 L207.8,207.2 L210.8,208.0 L213.8,208.9 L216.8,209.7 L219.8,210.5 L222.8,211.4 L225.8,212.2 L228.8,213.0 L231.8,213.8 L234.8,214.6 L237.8,215.3 L240.8,216.1 L243.8,216.9 L246.7,217.6 L249.7,218.4 L252.7,219.1 L255.7,219.9 L258.7,220.7 L261.7,221.5 L264.7,222.3 L267.7,223.1 L270.7,224.0 L273.7,224.9 L276.7,225.7 L279.7,226.6 L282.7,227.6 L285.7,228.5 L288.7,229.4 L291.7,230.4 L294.6,231.4 L297.6,232.3 L300.6,233.3 L303.6,234.3 L306.6,235.3 L309.6,236.4 L312.6,237.4 L315.6,238.4 L318.6,239.4 L321.6,240.4 L324.6,241.5 L327.6,242.5 L330.6,243.5 L333.6,244.5 L336.6,245.6 L339.6,246.6 L342.5,247.6 L345.5,248.7 L348.5,249.7 L351.5,250.7 L354.5,251.8 L357.5,252.8 L360.5,253.8 L363.5,254.9 L366.5,255.9 L369.5,256.9 L372.5,258.0 L375.5,259.0 L378.5,260.0 L381.5,261.1 L384.5,262.1 L387.5,263.2 L390.4,264.2 L393.4,265.3 L396.4,266.4 L399.4,267.5 L402.4,268.6 L405.4,269.7 L408.4,270.8 L411.4,271.9 L414.4,273.0 L417.4,274.0 L420.4,275.1 L423.4,276.2 L426.4,277.3 L429.4,278.4 L432.4,279.5 L435.4,280.6 L438.3,281.8 L441.3,283.0 L444.3,284.2 L447.3,285.4 L450.3,286.6 L453.3,287.9 L456.3,289.1 L459.3,290.3 L462.3,291.5 L465.3,292.7 L468.3,293.8 L471.3,294.9 L474.3,296.0 L477.3,297.1 L480.3,298.1 L483.3,299.1 L486.2,300.1 L489.2,301.1 L492.2,302.0 L495.2,302.9 L498.2,303.8 L501.2,304.7 L504.2,305.5 L507.2,306.3 L510.2,307.2 L513.2,308.0 L516.2,308.8 L519.2,309.6 L522.2,310.4 L525.2,311.2 L528.2,312.0 L531.2,312.8 L534.1,313.6 L537.1,314.4 L540.1,315.2 L543.1,315.9 L546.1,316.7 L549.1,317.5 L552.1,318.2 L555.1,319.0 L558.1,319.8 L561.1,320.6 L564.1,321.4 L567.1,322.2 L570.1,323.1 L573.1,323.9 L576.1,324.8 L579.1,325.6 L582.0,326.5 L585.0,327.3 L588.0,328.2 L591.0,329.0 L594.0,329.9 L597.0,330.8 L600.0,331.6 L603.0,332.5" stroke="#add8e6"/>
<path d="M127.0,206.2 L130.0,206.3 L133.0,206.4 L136.0,206.4 L139.0,206.5 L142.0,206.6 L145.0,206.7 L148.0,206.8 L151.0,206.9 L154.0,207.0 L157.0,207.1 L160.0,207.2 L163.0,207.3 L166.0,207.5 L169.0,207.6 L172.0,207.8 L175.0,208.0 L178.0,208.2 L181.0,208.5 L184.0,208.7 L187.0,209.0 L190.0,209.3 L193.0,209.6 L196.0,209.9 L199.0,210.3 L202.0,210.6 L205.1,210.9 L208.1,211.3 L211.1,211.7 L214.1,212.1 L217.1,212.6 L220.1,213.0 L223.1,213.5 L226.1,213.9 L229.1,214.4 L232.1,214.8 L235.1,215.2 L238.1,215.6 L241.1,215.9 L244.1,216.3 L247.1,216.6 L250.1,217.0 L253.1,217.3 L256.1,217.7 L259.1,218.1 L262.1,218.5 L265.1,218.9 L268.1,219.4 L271.1,219.8 L274.1,220.3 L277.1,220.7 L280.1,221.2 L283.1,221.7 L286.1,222.2 L289.1,222.7 L292.1,223.2 L295.1,223.8 L298.1,224.3 L301.1,224.9 L304.1,225.5 L307.1,226.0 L310.1,226.6 L313.1,227.3 L316.1,227.9 L319.1,228.5 L322.1,229.2 L325.1,229.8 L328.1,230.5 L331.1,231.2 L334.1,231.9 L337.1,232.5 L340.1,233.2 L343.1,233.9 L346.1,234.5 L349.1,235.2 L352.1,235.8 L355.1,236.5 L358.1,237.1 L361.1,237.7 L364.2,238.4 L367.2,239.0 L370.2,239.6 L373.2,240.3 L376.2,240.9 L379.2,241.5 L382.2,242.0 L385.2,242.6 L388.2,243.2 L391.2,243.7 L394.2,244.2 L397.2,244.8 L400.2,245.3 L403.2,245.8 L406.2,246.3 L409.2,246.9 L412.2,247.4 L415.2,247.9 L418.2,248.4 L421.2,248.9 L424.2,249.5 L427.2,250.0 L430.2,250.5 L433.2,251.0 L436.2,251.5 L439.2,252.0 L442.2,252.5 L445.2,253.1 L448.2,253.6 L451.2,254.1 L454.2,254.6 L457.2,255.1 L460.2,255.7 L463.2,256.2 L466.2,256.7 L469.2,257.2 L472.2,257.7 L475.2,258.2 L478.2,258.7 L481.2,259.2 L484.2,259.6 L487.2,260.1 L490.2,260.6 L493.2,261.0 L496.2,261.5 L499.2,262.0 L502.2,262.4 L505.2,262.9 L508.2,263.4 L511.2,263.9 L514.2,264.4 L517.2,264.9 L520.3,265.4 L523.3,266.0 L526.3,266.5 L529.3,267.1 L532.3,267.7 L535.3,268.2 L538.3,268.8 L541.3,269.4 L544.3,269.9 L547.3,270.5 L550.3,271.0 L553.3,271.5 L556.3,272.0 L559.3,272.5 L562.3,273.0 L565.3,273.5 L568.3,274.0 L571.3,274.4 L574.3,274.9 L577.3,275.4 L580.3,275.9 L583.3,276.4 L586.3,276.9 L589.3,277.4 L592.3,277.9 L595.3,278.5 L598.3,279.1 L601.3,279.6 L604.3,280.2 L607.3,280.8 L610.3,281.4 L613.3,282.0 L616.3,282.6 L619.3,283.2 L622.3,283.8 L625.3,284.3 L628.3,284.8 L631.3,285.4 L634.3,285.9 L637.3,286.4 L640.3,286.9 L643.3,287.4 L646.3,287.8 L649.3,288.3 L652.3,288.7 L655.3,289.2 L658.3,289.6 L661.3,290.1 L664.3,290.5 L667.3,290.9 L670.3,291.3 L673.4,291.8 L676.4,292.2 L679.4,292.6 L682.4,293.0 L685.4,293.4 L688.4,293.9 L691.4,294.3 L694.4,294.7 L697.4,295.1 L700.4,295.5 L703.4,295.9 L706.4,296.4 L709.4,296.8 L712.4,297.2 L715.4,297.6 L718.4,298.0 L721.4,298.4 L724.4,298.7 L727.4,299.1 L730.4,299.4 L733.4,299.8 L736.4,300.1 L739.4,300.4 L742.4,300.7 L745.4,301.0 L748.4,301.3 L751.4,301.6" stroke="#9400d3"/>
<path d="M127.0,180.0 L130.0,180.3 L133.0,180.6 L136.0,180.9 L139.0,181.3 L142.0,181.7 L145.0,182.1 L148.0,182.6 L151.0,183.1 L154.0,183.7 L157.0,184.3 L160.0,184.9 L163.0,185.6 L166.0,186.3 L169.0,187.1 L172.0,187.9 L175.0,188.7 L178.0,189.5 L181.0,190.3 L184.0,191.2 L187.0,192.1 L190.0,193.1 L193.0,194.1 L196.0,195.2 L199.0,196.3 L202.0,197.4 L205.0,198.5 L208.0,199.7 L211.0,201.0 L214.0,202.3 L217.0,203.6 L220.0,204.9 L223.0,206.3 L226.0,207.8 L229.0,209.3 L232.0,210.9 L235.0,212.5 L238.0,214.3 L241.0,216.0 L244.0,217.8 L247.0,219.7 L250.0,221.6 L253.0,223.5 L256.0,225.4 L259.0,227.3 L262.0,229.2 L265.0,231.1 L268.0,233.0 L271.0,234.9 L274.0,236.7 L277.0,238.6 L280.0,240.5 L283.0,242.3 L286.0,244.2 L289.0,246.1 L292.0,248.1 L295.0,250.0 L298.0,252.0 L301.0,254.0 L304.0,256.0 L307.0,258.0 L310.0,260.0 L313.0,262.0 L316.0,264.1 L319.0,266.1 L322.0,268.1 L325.0,270.1 L328.0,272.0 L331.0,274.0 L334.0,276.0 L337.0,278.0 L340.0,280.0 L343.0,282.1 L346.0,284.1 L349.0,286.2 L352.0,288.4 L355.0,290.5 L358.0,292.7 L361.0,294.8 L364.0,297.0 L367.0,299.2 L370.0,301.4 L373.0,303.6 L376.0,305.8 L379.0,307.9 L382.0,310.1 L385.0,312.2 L388.0,314.3 L391.0,316.3 L394.0,318.3 L397.0,320.2 L400.0,322.1 L403.0,324.0 L406.0,325.8 L409.0,327.5 L412.0,329.2 L415.0,330.8 L418.0,332.4 L421.0,333.9 L424.0,335.4 L427.0,336.8 L430.0,338.3 L433.0,339.6 L436.0,341.0 L439.0,342.3 L442.0,343.7 L445.0,345.0 L448.0,346.3 L451.0,347.6 L454.0,348.9 L457.0,350.2 L460.0,351.6 L463.0,352.9 L466.0,354.3 L469.0,355.6 L472.0,357.0 L475.0,358.4 L478.0,359.7 L481.0,361.1 L484.0,362.5" stroke="#006400"/>
<path d="M127.0,355.4 L130.0,355.5 L133.0,355.7 L136.0,355.8 L139.0,355.9 L142.0,356.1 L145.0,356.3 L148.1,356.4 L151.1,356.6 L154.1,356.8 L157.1,357.0 L160.1,357.3 L163.1,357.5 L166.1,357.8 L169.1,358.0 L172.1,358.3 L175.1,358.6 L178.1,358.9 L181.1,359.2 L184.1,359.5 L187.1,359.8 L190.2,360.2 L193.2,360.5 L196.2,360.8 L199.2,361.2 L202.2,361.5 L205.2,361.9 L208.2,362.3 L211.2,362.8 L214.2,363.2 L217.2,363.7 L220.2,364.2 L223.2,364.8 L226.2,365.3 L229.2,365.9 L232.3,366.5 L235.3,367.2 L238.3,367.8 L241.3,368.5 L244.3,369.2 L247.3,369.9 L250.3,370.6 L253.3,371.3 L256.3,372.1 L259.3,372.9 L261.5,373.5 M261.5,373.5 L262.3,373.7 L265.3,374.5 L268.3,375.3 L271.3,376.1 L274.4,377.0 L277.4,377.8 L280.4,378.7 L283.4,379.5 L286.4,380.4 L289.4,381.3 L292.4,382.2 L295.4,383.1 L298.4,384.1 L301.4,385.0 L304.4,386.0 L307.4,387.0 L310.4,388.0 L312.7,388.8 M312.7,388.8 L313.4,389.1 L316.5,390.1 L319.5,391.2 L322.5,392.3 L325.5,393.4 L328.5,394.5 L331.5,395.7 L334.5,396.8 L337.5,398.0 L340.5,399.2 L343.5,400.4 L346.5,401.7 L349.5,402.9 L352.5,404.1 L355.6,405.4 L358.6,406.6 L361.6,407.9 L364.6,409.2 L367.6,410.4 L370.6,411.7 L373.6,413.0 L376.6,414.3 L379.0,415.4 M379.0,415.4 L379.6,415.6 L382.6,417.0 L385.6,418.3 L388.6,419.6 L391.6,420.9 L394.6,422.2 L397.7,423.5 L400.7,424.8 L403.7,426.1 L406.7,427.4 L409.7,428.7 L412.7,430.0 L415.7,431.2 L418.7,432.5 L421.7,433.7 L424.7,434.9 L427.7,436.1 L429.4,436.7 M429.4,436.7 L430.7,437.2 L433.7,438.4 L436.7,439.6 L439.8,440.8 L442.8,442.0 L445.8,443.1 L448.8,444.3 L451.8,445.5 L452.5,445.8 M452.5,445.8 L454.8,446.7 L457.8,447.8 L460.8,449.0 L463.8,450.1 L466.8,451.2 L469.8,452.2 L472.8,453.3 L474.0,453.7 M474.0,453.7 L475.8,454.3 L478.8,455.3 L481.9,456.2 L484.9,457.1 L487.9,458.1 L490.9,459.0 L493.9,459.9 L495.0,460.2 M495.0,460.2 L496.9,460.8 L499.9,461.7 L502.9,462.6 L505.9,463.6 L508.9,464.5 L511.9,465.3 L514.9,466.2 L516.0,466.5 M516.0,466.5 L517.9,467.1 L520.9,467.9 L524.0,468.8 L527.0,469.6 L530.0,470.4 L533.0,471.2 L536.0,471.9 L538.5,472.6 M538.5,472.6 L539.0,472.7 L542.0,473.5" stroke="#8b0000" stroke-dasharray="21.4 7.1 3.8 7.2"/>
<path d="M127.0,309.5 L130.0,309.6 L133.0,309.8 L136.0,310.0 L139.0,310.2 L142.0,310.4 L145.0,310.7 L148.0,311.0 L151.1,311.3 L154.1,311.6 L157.1,312.0 L160.1,312.4 L163.1,312.8 L166.1,313.2 L169.1,313.6 L172.1,314.0 L175.1,314.4 L178.1,314.8 L181.1,315.2 L184.1,315.6 L187.1,316.0 L190.1,316.4 L193.1,316.9 L196.2,317.3 L199.2,317.8 L202.2,318.2 L205.2,318.7 L208.2,319.2 L211.2,319.7 L214.2,320.2 L217.2,320.8 L220.2,321.3 L223.2,321.9 L226.2,322.4 L229.2,323.0 L232.2,323.6 L235.2,324.2 L238.2,324.9 L241.3,325.5 L244.3,326.2 L247.3,326.9 L250.3,327.6 L253.3,328.4 L256.3,329.2 L259.3,330.0 L262.3,330.8 L265.3,331.6 L268.3,332.5 L271.3,333.3 L274.3,334.1 L277.3,335.0 L280.3,335.8 L283.3,336.7 L284.0,336.9 M284.0,336.9 L286.4,337.6 L289.4,338.5 L292.4,339.4 L295.4,340.4 L298.4,341.3 L301.4,342.3 L304.4,343.4 L307.4,344.4 L310.4,345.5 L313.4,346.6 L316.4,347.7 L319.4,348.8 L322.4,349.9 L325.4,351.0 L328.4,352.1 L331.5,353.2 L334.5,354.3 L337.5,355.5 L340.5,356.6 L343.5,357.8 L346.5,359.0 L349.5,360.3 L352.5,361.6 L355.5,362.9 L358.5,364.2 L361.5,365.5 L364.5,366.7 L367.5,368.0 L370.5,369.2 L373.5,370.3 L376.5,371.5 L379.6,372.6 L380.5,373.0 M380.5,373.0 L382.6,373.7 L385.6,374.9 L388.6,376.1 L391.6,377.2 L394.6,378.5 L397.6,379.7 L399.0,380.3 M399.0,380.3 L400.6,380.9 L403.6,382.2 L406.6,383.4 L409.6,384.7 L412.6,386.0 L415.6,387.4 L418.6,388.7 L421.6,390.1 L424.7,391.5 L427.7,392.8 L430.7,394.2 L433.2,395.3 M433.2,395.3 L433.7,395.5 L436.7,396.8 L437.8,397.2 M437.8,397.2 L439.7,398.0 L442.7,399.2 L445.7,400.3 L448.7,401.5 L451.7,402.8 L454.7,404.0 L457.7,405.3 L460.7,406.6 L463.7,407.9 L466.7,409.2 L469.8,410.5 L472.8,411.8 L475.8,413.1 L478.8,414.3 L481.8,415.5 L484.8,416.7 L487.8,417.9 L490.8,419.1 L493.8,420.3 L496.8,421.6 L499.8,422.8 L502.8,423.9 L505.8,425.1 L506.0,425.1 M506.0,425.1 L508.8,426.2 L511.8,427.3 L514.9,428.4 L517.9,429.4 L520.9,430.4 L523.9,431.4 L526.9,432.4 L529.9,433.4 L532.9,434.4 L535.9,435.4 L538.0,436.1 M538.0,436.1 L538.9,436.4 L541.9,437.4 L544.9,438.4 L547.9,439.3 L550.9,440.3 L553.9,441.2 L556.9,442.1 L560.0,442.9 L563.0,443.8 L566.0,444.6 L569.0,445.5 L571.0,446.1 M571.0,446.1 L572.0,446.4 L575.0,447.2 L578.0,448.1 L581.0,449.0" stroke="#ffa500" stroke-dasharray="21.4 7.1 3.8 7.2"/>
<path d="M127.0,206.2 L130.0,206.3 L133.0,206.3 L136.0,206.4 L139.0,206.5 L142.0,206.5 L145.0,206.6 L148.0,206.7 L151.0,206.9 L154.0,207.0 L157.0,207.1 L160.0,207.2 L163.1,207.4 L166.1,207.6 L169.1,207.7 L172.1,207.9 L175.1,208.1 L178.1,208.4 L181.1,208.6 L184.1,208.8 L187.1,209.1 L190.1,209.4 L193.1,209.7 L196.1,210.0 L199.1,210.3 L202.1,210.7 L205.1,211.1 L208.1,211.5 L211.1,211.9 L214.1,212.4 L217.1,212.8 L220.1,213.2 L223.1,213.6 L226.1,214.1 L229.2,214.4 L232.2,214.8 L235.2,215.2 L238.2,215.6 L241.2,215.9 L244.2,216.3 L247.2,216.6 L250.2,217.0 L253.2,217.3 L256.2,217.7 L259.2,218.1 L262.2,218.5 L265.2,219.0 L268.2,219.4 L271.2,219.8 L274.2,220.3 L277.2,220.8 L280.2,221.2 L283.2,221.7 L286.2,222.2 L289.2,222.7 L292.2,223.2 L295.2,223.8 L298.3,224.3 L301.3,224.9 L304.3,225.5 L307.3,226.1 L310.3,226.7 L313.3,227.3 L316.3,227.9 L319.3,228.6 L322.3,229.2 L325.3,229.9 L328.3,230.6 L331.3,231.2 L334.3,231.9 L337.3,232.6 L340.3,233.2 L343.3,233.9 L346.3,234.6 L349.3,235.2 L352.3,235.9 L355.3,236.5 L358.3,237.1 L361.3,237.8 L364.4,238.4 L367.4,239.0 L370.4,239.7 L373.4,240.3 L376.4,240.9 L379.4,241.6 L382.4,242.2 L385.4,242.8 L388.4,243.4 L391.4,244.0 L394.4,244.6 L397.4,245.2 L400.4,245.8 L403.4,246.4 L406.4,247.0 L409.4,247.6 L412.4,248.2 L415.4,248.8 L418.4,249.4 L421.4,250.0 L424.4,250.6 L427.4,251.2 L430.5,251.8 L433.5,252.4 L436.5,253.0 L439.5,253.6 L442.5,254.2 L445.5,254.8 L448.5,255.4 L451.5,256.0 L454.5,256.6 L457.5,257.2 L460.5,257.8 L463.5,258.4 L466.5,259.1 L469.5,259.7 L472.5,260.3 L475.5,261.0 L478.5,261.6 L481.5,262.3 L484.5,262.9 L487.5,263.6 L490.5,264.2 L493.5,264.8 L496.5,265.5 L499.6,266.1 L502.6,266.7 L505.6,267.2 L508.6,267.8 L511.6,268.3 L514.6,268.8 L517.6,269.3 L520.6,269.8 L523.6,270.2 L526.6,270.6 L529.6,271.0 L532.6,271.3 L535.6,271.7 L538.6,272.1 L541.6,272.4 L544.6,272.8 L547.6,273.2 L550.6,273.6 L553.6,274.0 L556.6,274.4 L559.6,274.8 L562.6,275.2 L565.7,275.6 L568.7,276.0 L571.7,276.4 L574.7,276.8 L577.7,277.3 L580.7,277.7 L583.7,278.2 L586.7,278.6 L589.7,279.1 L592.7,279.6 L595.7,280.2 L598.7,280.7 L601.7,281.3 L604.7,281.9 L607.7,282.4 L610.7,283.0 L613.7,283.6 L616.7,284.2 L619.7,284.7 L622.7,285.3 L625.7,285.8 L628.7,286.3 L631.8,286.8 L634.8,287.3 L637.8,287.8 L640.8,288.3 L643.8,288.8 L646.8,289.2 L649.8,289.7 L652.8,290.2 L655.8,290.6 L658.8,291.0 L661.8,291.5 L664.8,291.9 L667.8,292.3 L670.8,292.7 L673.8,293.1 L676.8,293.5 L679.8,293.9 L682.8,294.3 L685.8,294.8 L688.8,295.2 L691.8,295.6 L694.8,296.0 L697.8,296.4 L700.9,296.8 L703.9,297.2 L706.9,297.6 L709.9,298.0 L712.9,298.4 L715.9,298.8 L718.9,299.2 L721.9,299.5 L724.9,299.9 L727.9,300.2 L730.5,300.5 M730.5,300.5 L730.9,300.6 L733.9,300.9 L736.9,301.2 L739.9,301.5 L742.9,301.8 L745.9,302.1 L748.9,302.3 L751.9,302.6 L754.9,302.9 L757.9,303.1 L760.9,303.4 L763.9,303.7 L767.0,304.0 L770.0,304.3 L773.0,304.7 L776.0,305.1 L779.0,305.4 L782.0,305.8 L785.0,306.2 L788.0,306.6 L791.0,307.0 L794.0,307.5 L797.0,307.9 L800.0,308.3" stroke="#9400d3" stroke-dasharray="21.4 7.1 3.8 7.2"/>
<path d="M127.0,195.0 L130.0,195.3 L133.0,195.6 L136.0,195.9 L139.0,196.2 L142.0,196.5 L145.0,196.8 L148.0,197.1 L151.0,197.5 L154.0,197.8 L156.9,198.1 L159.9,198.5 L162.9,198.8 L165.9,199.2 L168.9,199.5 L171.9,199.9 L174.9,200.3 L177.9,200.7 L180.9,201.2 L183.9,201.7 L186.9,202.2 L189.9,202.8 L192.9,203.4 L195.9,204.1 L198.9,204.8 L201.9,205.6 L204.9,206.4 L207.9,207.2 L210.9,208.0 L213.9,208.9 L216.8,209.7 L219.8,210.6 L222.8,211.4 L225.8,212.3 L228.8,213.2 L231.8,214.1 L234.8,215.0 L237.8,215.9 L240.8,216.8 L243.8,217.8 L246.8,218.7 L249.8,219.7 L252.8,220.6 L255.8,221.6 L258.8,222.6 L261.8,223.6 L264.8,224.6 L267.8,225.7 L270.8,226.9 L273.8,228.0 L276.7,229.3 L279.7,230.6 L282.7,231.9 L285.7,233.3 L288.7,234.6 L291.7,235.9 L294.7,237.2 L297.7,238.4 L300.7,239.6 L303.7,240.7 L306.7,241.9 L309.7,243.0 L312.7,244.1 L315.7,245.2 L318.7,246.4 L321.7,247.6 L322.5,247.9 M322.5,247.9 L324.7,248.8 L327.7,250.1 L330.7,251.4 L333.6,252.7 L336.6,254.0 L339.6,255.3 L342.6,256.6 L345.6,257.8 L348.6,259.0 L351.6,260.1 L354.6,261.3 L357.6,262.4 L360.6,263.6 L363.6,264.7 L366.6,265.9 L369.6,267.1 L372.6,268.3 L375.6,269.5 L378.6,270.7 L379.5,271.1 M379.5,271.1 L381.6,272.0 L384.6,273.1 L387.6,274.3 L390.6,275.5 L393.5,276.6 L396.5,277.8 L399.5,278.9 L402.5,280.0 L405.5,281.1 L408.5,282.2 L411.5,283.3 L414.5,284.3 L417.5,285.3 L420.5,286.2 L423.5,287.1 L426.5,288.0 L429.5,288.9 L432.5,289.8 L435.5,290.7 L438.5,291.5 L439.0,291.7 M439.0,291.7 L441.5,292.4 L444.5,293.3 L447.5,294.2 L450.5,295.1 L453.4,296.0 L456.4,296.9 L459.4,297.8 L462.4,298.7 L465.4,299.5 L468.4,300.4 L471.4,301.2 L474.4,302.0 L477.4,302.8 L480.4,303.5 L483.4,304.2 L486.4,304.9 L489.4,305.6 L492.4,306.3 L495.4,307.0 L498.4,307.8 L501.4,308.7 L504.4,309.5 L507.4,310.4 L510.4,311.2 L513.3,312.1 L516.3,312.9 L519.3,313.6 L522.3,314.4 L525.3,315.0 L528.3,315.7 L531.3,316.4 L534.3,317.0 L537.3,317.7 L540.3,318.4 L543.3,319.0 L546.3,319.7 L549.3,320.4 L552.3,321.1 L555.3,321.9 L558.3,322.6 L561.3,323.3 L564.3,324.0 L567.3,324.7 L570.2,325.5 L573.2,326.2 L576.2,326.9 L579.2,327.6 L579.9,327.8 M579.9,327.8 L582.2,328.4 L585.2,329.1 L588.2,329.8 L591.2,330.5 L594.2,331.2 L597.2,331.8 L600.2,332.5 L603.2,333.0 L606.2,333.6 L609.2,334.1 L612.2,334.7 L615.2,335.2 L618.2,335.7 L621.2,336.2 L624.2,336.8 L627.2,337.4 L630.1,338.0 L633.1,338.6 L636.1,339.3 L639.1,339.9 L642.1,340.5 L645.1,341.2 L646.4,341.5 M646.4,341.5 L648.1,341.8 L651.1,342.5 L654.1,343.2 L657.1,343.8 L660.1,344.5 L663.1,345.2 L666.1,345.9 L669.1,346.5 L672.1,347.2 L675.1,347.9 L678.1,348.5 L681.1,349.1 L684.1,349.7 L687.1,350.4 L690.0,350.9 L693.0,351.5 L696.0,352.1 L699.0,352.6 L702.0,353.1 L705.0,353.7 L708.0,354.2 L710.0,354.5 M710.0,354.5 L711.0,354.6 L714.0,355.1 L717.0,355.6" stroke="#add8e6" stroke-dasharray="21.4 7.1 3.8 7.2"/>
<path d="M127.0,226.0 L130.0,226.4 L133.0,226.8 L136.0,227.2 L139.0,227.6 L142.0,228.1 L145.0,228.5 L148.0,228.9 L151.0,229.4 L153.9,229.9 L156.9,230.4 L159.9,230.9 L162.9,231.5 L165.9,232.0 L168.9,232.6 L171.9,233.2 L174.9,233.8 L177.9,234.4 L180.9,235.1 L183.9,235.8 L186.9,236.5 L189.9,237.2 L192.9,238.0 L195.9,238.8 L198.9,239.6 L201.8,240.4 L204.8,241.3 L207.8,242.1 L210.8,243.0 L213.8,243.9 L216.8,244.8 L219.8,245.8 L222.8,246.8 L225.8,247.9 L228.8,249.0 L231.8,250.2 L234.8,251.4 L237.8,252.7 L240.8,254.0 L243.8,255.3 L246.8,256.6 L249.7,258.0 L251.5,258.8 M251.5,258.8 L252.7,259.4 L255.7,260.8 L258.7,262.2 L261.7,263.6 L264.7,264.9 L267.7,266.3 L270.7,267.7 L273.7,269.1 L276.7,270.5 L279.7,271.9 L282.7,273.3 L285.7,274.6 L288.7,276.0 L291.7,277.3 L294.7,278.7 L297.6,280.1 L300.6,281.6 L303.6,283.1 L306.6,284.6 L309.6,286.1 L312.0,287.3 M312.0,287.3 L312.6,287.6 L315.6,289.1 L318.6,290.7 L321.6,292.2 L324.6,293.6 L327.6,295.0 L330.6,296.4 L333.6,297.7 L336.6,299.0 L339.6,300.4 L342.6,301.7 L345.5,303.0 L348.5,304.3 L351.5,305.6 L354.5,306.8 L357.5,308.1 L360.5,309.4 L363.5,310.6 L366.5,311.9 L369.5,313.1 L372.5,314.4 L375.5,315.6 L378.5,316.9 L381.5,318.1 L384.5,319.3 L387.5,320.6 L390.5,321.8 L393.4,323.0 L396.4,324.2 L399.4,325.4 L402.4,326.6 L405.4,327.9 L408.4,329.1 L411.4,330.3 L414.4,331.5 L417.4,332.8 L420.4,334.1 L423.4,335.4 L426.4,336.7 L429.4,338.0 L432.4,339.3 L435.4,340.6 L438.4,341.9 L441.3,343.3 L444.3,344.6 L447.3,345.9 L450.3,347.3 L453.3,348.6 L456.3,349.9 L459.3,351.3 L462.3,352.6 L465.3,354.0 L468.3,355.3 L471.3,356.7 L474.3,358.0 L477.3,359.4 L480.3,360.7 L483.3,362.0 L486.3,363.2 L487.3,363.6 M487.3,363.6 L489.2,364.4 L492.2,365.6 L495.2,366.8 L498.2,367.9 L501.2,369.1 L504.2,370.2 L507.2,371.4 L510.2,372.6 L513.2,373.8 L516.2,375.0 L519.2,376.2 L522.2,377.4 L525.2,378.7 L528.2,379.9 L531.2,381.1 L534.2,382.3 L534.5,382.4 M534.5,382.4 L537.1,383.5 L540.1,384.6 L543.1,385.8 L546.1,387.0 L549.1,388.1 L552.1,389.2 L555.1,390.4 L558.1,391.5 L561.1,392.6 L564.1,393.8 L567.1,394.8 L570.1,395.9 L573.1,397.0 L576.1,398.0 L579.1,399.0 L580.0,399.3 M580.0,399.3 L582.1,399.9 L585.0,400.9 L588.0,401.8 L591.0,402.7 L594.0,403.7 L597.0,404.6 L600.0,405.6 L603.0,406.6 L606.0,407.6 L609.0,408.6" stroke="#006400" stroke-dasharray="21.4 7.1 3.8 7.2"/>
<path d="M127.0,196.2 L130.0,196.3 L133.0,196.5 L136.0,196.6 L139.0,196.7 L142.0,196.9 L145.0,197.0 L148.0,197.2 L151.0,197.4 L154.0,197.6 L157.0,197.8 L160.0,198.0 L163.1,198.3 L166.1,198.6 L169.1,198.8 L172.1,199.1 L175.1,199.4 L178.1,199.7 L181.1,200.0 L184.1,200.3 L187.1,200.6 L190.1,200.9 L193.1,201.2 L196.1,201.6 L199.1,202.0 L202.1,202.4 L205.1,202.8 L208.1,203.2 L211.1,203.6 L214.1,204.0 L217.1,204.4 L220.1,204.8 L223.1,205.2 L226.1,205.6 L229.2,206.0 L232.2,206.5 L235.2,206.9 L238.2,207.3 L241.2,207.8 L244.2,208.2 L247.2,208.6 L250.2,209.0 L253.2,209.5 L256.2,209.9 L259.2,210.3 L262.2,210.8 L265.2,211.2 L268.2,211.7 L271.2,212.2 L274.2,212.7 L277.2,213.3 L280.2,213.9 L283.2,214.5 L286.2,215.1 L289.2,215.8 L292.2,216.6 L295.2,217.3 L298.3,218.1 L301.3,218.9 L304.3,219.7 L307.3,220.4 L310.3,221.2 L313.3,221.9 L316.3,222.6 L319.3,223.4 L322.3,224.1 L325.3,224.8 L328.3,225.5 L331.3,226.2 L334.3,227.0 L337.3,227.7 L340.3,228.5 L343.3,229.2 L346.3,229.9 L349.3,230.7 L352.3,231.4 L355.3,232.1 L358.3,232.8 L361.3,233.6 L364.4,234.3 L367.4,235.0 L370.4,235.8 L373.4,236.6 L376.4,237.4 L379.4,238.2 L382.4,239.0 L385.4,239.8 L388.4,240.6 L391.4,241.5 L394.4,242.3 L397.4,243.1 L400.4,243.8 L403.4,244.6 L406.4,245.4 L409.4,246.2 L412.4,247.0 L415.4,247.9 L418.4,248.7 L421.4,249.6 L424.4,250.5 L427.4,251.4 L430.5,252.3 L433.5,253.2 L436.5,254.1 L439.5,255.1 L442.5,256.0 L445.5,256.9 L448.5,257.8 L451.5,258.7 L454.5,259.6 L457.5,260.4 L460.5,261.2 L463.5,262.0 L466.5,262.8 L469.5,263.5 L472.5,264.3 L475.5,265.0 L478.5,265.7 L481.5,266.4 L484.5,267.1 L487.5,267.8 L490.5,268.5 L493.5,269.2 L496.5,269.9 L499.6,270.6 L502.6,271.3 L505.6,272.0 L508.6,272.7 L511.6,273.4 L514.6,274.2 L517.6,274.9 L520.6,275.6 L523.6,276.4 L526.6,277.1 L529.6,277.9 L532.6,278.6 L535.6,279.4 L538.6,280.1 L541.6,280.8 L544.6,281.5 L547.6,282.2 L550.6,282.9 L553.6,283.6 L556.6,284.2 L559.6,284.9 L562.6,285.6 L565.7,286.3 L568.7,286.9 L571.7,287.6 L574.7,288.3 L577.7,288.9 L580.7,289.6 L583.7,290.2 L586.7,290.8 L589.7,291.4 L592.7,292.0 L595.7,292.6 L598.7,293.2 L601.7,293.8 L604.7,294.3 L607.7,294.9 L610.7,295.5 L613.7,296.0 L616.7,296.6 L619.7,297.1 L622.7,297.7 L625.7,298.2 L628.7,298.8 L631.8,299.3 L634.8,299.8 L637.8,300.3 L640.8,300.8 L643.8,301.2 L646.8,301.7 L649.8,302.1 L652.8,302.5 L655.8,302.9 L658.8,303.4 L661.8,303.8 L664.8,304.2 L667.8,304.6 L670.8,305.0 L673.8,305.4 L676.8,305.7 L679.8,306.1 L682.8,306.4 L685.8,306.7 L688.8,306.9 L691.8,307.1 L694.8,307.4 L697.8,307.6 L700.9,307.9 L703.9,308.2 L706.9,308.5 L709.9,308.8 L712.9,309.2 L715.9,309.6 L718.9,310.0 L721.9,310.4 L724.9,310.9 L727.9,311.3 L730.9,311.8 L733.9,312.2 L736.9,312.6 L739.9,313.0 L742.9,313.5 L745.9,313.9 L748.9,314.3 L751.9,314.7 L754.9,315.1 L757.9,315.4 L760.9,315.8 L763.9,316.1 L767.0,316.5 L770.0,316.8 L773.0,317.1 L776.0,317.4 L779.0,317.8 L782.0,318.1 L785.0,318.4 L788.0,318.8 L791.0,319.1 L794.0,319.5 L797.0,319.8 L800.0,320.2" stroke="#e9967a" stroke-dasharray="3.8 5.0"/>
<path d="M127.0,215.0 L130.0,215.1 L133.0,215.2 L136.0,215.4 L139.0,215.5 L142.0,215.6 L145.0,215.8 L148.0,216.0 L151.0,216.1 L154.0,216.3 L157.0,216.5 L160.0,216.7 L163.0,216.9 L166.0,217.1 L169.1,217.4 L172.1,217.6 L175.1,217.9 L178.1,218.2 L181.1,218.5 L184.1,218.8 L187.1,219.1 L190.1,219.4 L193.1,219.7 L196.1,220.0 L199.1,220.3 L202.1,220.6 L205.1,220.9 L208.1,221.3 L211.1,221.6 L214.1,222.0 L217.1,222.4 L220.1,222.8 L223.1,223.2 L226.1,223.6 L229.1,224.0 L232.1,224.5 L235.1,224.9 L238.1,225.4 L241.1,226.0 L244.1,226.5 L247.1,227.0 L250.1,227.6 L253.2,228.2 L256.2,228.8 L259.2,229.4 L262.2,229.9 L265.2,230.5 L268.2,231.0 L271.2,231.5 L274.2,232.0 L277.2,232.5 L280.2,232.9 L283.2,233.4 L286.2,233.9 L289.2,234.4 L292.2,234.9 L295.2,235.4 L298.2,236.0 L301.2,236.5 L304.2,237.0 L307.2,237.6 L310.2,238.1 L313.2,238.7 L316.2,239.3 L319.2,239.8 L322.2,240.4 L325.2,241.0 L328.2,241.5 L331.2,242.1 L334.2,242.7 L337.3,243.3 L340.3,243.8 L343.3,244.4 L346.3,245.0 L349.3,245.5 L352.3,246.1 L355.3,246.6 L358.3,247.2 L361.3,247.7 L364.3,248.2 L367.3,248.7 L370.3,249.3 L373.3,249.8 L376.3,250.3 L379.3,250.8 L382.3,251.3 L385.3,251.8 L388.3,252.4 L391.3,252.9 L394.3,253.5 L397.3,254.1 L400.3,254.6 L403.3,255.1 L406.3,255.6 L409.3,256.1 L412.3,256.6 L415.3,257.1 L418.3,257.5 L421.4,258.0 L424.4,258.4 L427.4,258.9 L430.4,259.5 L433.4,260.0 L436.4,260.6 L439.4,261.2 L442.4,261.8 L445.4,262.5 L448.4,263.2 L451.4,263.8 L454.4,264.5 L457.4,265.2 L460.4,265.8 L463.4,266.5 L466.4,267.1 L469.4,267.7 L472.4,268.4 L475.4,269.0 L478.4,269.6 L481.4,270.2 L484.4,270.8 L487.4,271.3 L490.4,271.9 L493.4,272.5 L496.4,273.1 L499.4,273.7 L502.4,274.2 L505.5,274.8 L508.5,275.5 L511.5,276.1 L514.5,276.7 L517.5,277.3 L520.5,278.0 L523.5,278.7 L526.5,279.4 L529.5,280.0 L532.5,280.7 L535.5,281.4 L538.5,282.1 L541.5,282.8 L544.5,283.5 L547.5,284.1 L550.5,284.8 L553.5,285.5 L556.5,286.1 L559.5,286.8 L562.5,287.4 L565.5,288.1 L568.5,288.7 L571.5,289.3 L574.5,290.0 L577.5,290.6 L580.5,291.2 L583.5,291.9 L586.5,292.5 L589.6,293.1 L592.6,293.7 L595.6,294.2 L598.6,294.8 L601.6,295.4 L604.6,295.9 L607.6,296.5 L610.6,297.0 L613.6,297.6 L616.6,298.2 L619.6,298.7 L622.6,299.3 L625.6,299.8 L628.6,300.3 L631.6,300.9 L634.6,301.4 L637.6,301.9 L640.6,302.4 L643.6,302.9 L646.6,303.4 L649.6,303.9 L652.6,304.4 L655.6,304.9 L658.6,305.3 L661.6,305.8 L664.6,306.3 L667.6,306.8 L670.6,307.3 L673.7,307.8 L676.7,308.2 L679.7,308.6 L682.7,309.0 L685.7,309.4 L688.7,309.8 L691.7,310.1 L694.7,310.5 L697.7,310.8 L700.7,311.1 L703.7,311.4 L706.7,311.7 L709.7,311.9 L712.7,312.2" stroke="#e9967a"/>
<path d="M127.0,210.6 L130.0,210.7 L133.0,210.8 L136.0,210.9 L139.0,211.0 L142.0,211.2 L145.0,211.3 L148.0,211.5 L151.0,211.7 L154.0,211.9 L157.0,212.1 L160.0,212.4 L163.1,212.6 L166.1,212.9 L169.1,213.1 L172.1,213.4 L175.1,213.6 L178.1,213.9 L181.1,214.1 L184.1,214.4 L187.1,214.6 L190.1,214.9 L193.1,215.2 L196.1,215.6 L199.1,215.9 L202.1,216.3 L205.1,216.6 L208.1,216.9 L211.1,217.3 L214.1,217.6 L217.1,218.0 L220.1,218.3 L223.1,218.7 L226.1,219.1 L229.2,219.5 L232.2,220.0 L235.2,220.5 L238.2,221.1 L241.2,221.6 L244.2,222.2 L247.2,222.7 L250.2,223.3 L253.2,223.8 L256.2,224.3 L259.2,224.9 L262.2,225.4 L265.2,225.9 L268.2,226.4 L271.2,226.9 L274.2,227.4 L277.2,227.9 L280.2,228.5 L283.2,229.0 L286.2,229.6 L289.2,230.1 L292.2,230.7 L295.2,231.3 L298.3,231.9 L301.3,232.6 L304.3,233.2 L307.3,233.9 L310.3,234.5 L313.3,235.2 L316.3,235.8 L319.3,236.5 L322.3,237.1 L325.3,237.9 L328.3,238.6 L331.3,239.4 L334.3,240.2 L337.3,241.1 L340.3,241.9 L343.3,242.7 L346.3,243.5 L349.3,244.3 L352.3,245.0 L355.3,245.7 L358.3,246.3 L361.3,246.9 L364.4,247.5 L367.4,248.0 L370.4,248.6 L373.4,249.3 L376.4,249.9 L379.4,250.7 L382.4,251.4 L385.4,252.2 L388.4,253.0 L391.4,253.8 L394.4,254.6 L397.4,255.4 L400.4,256.3 L403.4,257.1 L406.4,257.9 L409.4,258.7 L410.6,258.9 M410.6,258.9 L412.4,259.4 L415.4,260.1 L418.4,260.9 L421.4,261.6 L424.4,262.3 L427.4,262.9 L430.5,263.6 L433.5,264.2 L436.5,264.8 L439.5,265.5 L442.5,266.1 L445.5,266.7 L448.5,267.4 L451.5,268.0 L454.5,268.6 L457.5,269.3 L460.5,269.9 L463.5,270.6 L466.5,271.2 L469.5,271.9 L472.5,272.5 L475.5,273.2 L478.5,273.8 L481.5,274.4 L484.5,275.0 L487.5,275.7 L490.5,276.3 L493.5,276.8 L496.5,277.4 L499.6,278.0 L502.6,278.5 L505.6,279.1 L508.6,279.7 L511.6,280.2 L514.6,280.8 L517.6,281.4 L520.6,282.0 L523.6,282.5 L526.6,283.1 L529.6,283.6 L532.6,284.2 L535.6,284.7 L538.6,285.2 L541.6,285.7 L544.6,286.2 L547.6,286.8 L550.6,287.3 L553.6,287.9 L556.6,288.4 L559.6,289.0 L562.6,289.6 L565.7,290.1 L568.7,290.7 L571.7,291.2 L574.7,291.8 L577.7,292.3 L580.7,292.9 L583.7,293.5 L586.7,294.0 L589.7,294.6 L592.7,295.1 L595.7,295.7 L598.7,296.3 L601.7,296.8 L604.7,297.4 L607.7,297.9 L610.7,298.5 L613.7,299.0 L616.7,299.5 L619.7,300.0 L622.7,300.5 L625.7,301.0 L628.7,301.4 L631.8,301.9 L634.8,302.3 L637.8,302.8 L640.8,303.3 L643.8,303.7 L646.8,304.2 L649.8,304.7 L652.8,305.2 L655.8,305.7 L658.8,306.2 L661.8,306.7 L664.8,307.2 L667.8,307.7 L670.8,308.2 L673.8,308.6 L676.8,309.1 L679.8,309.5 L682.8,309.9 L685.8,310.3 L688.8,310.7 L690.5,310.9 M690.5,310.9 L691.8,311.0 L694.8,311.4 L697.8,311.7 L700.9,312.0 L703.9,312.3 L706.9,312.7 L709.9,313.0 L712.9,313.3 L715.9,313.6 L718.9,314.0 L721.9,314.4 L724.9,314.8 L727.9,315.2 L730.9,315.7 L733.9,316.1 L736.9,316.6 L739.9,317.1 L742.9,317.6 L745.9,318.0 L748.9,318.5 L751.9,318.9 L754.9,319.3 L757.9,319.8 L760.9,320.2 L763.9,320.7 L765.5,320.9 M765.5,320.9 L767.0,321.2 L770.0,321.7 L773.0,322.2 L776.0,322.7 L779.0,323.2 L782.0,323.7 L785.0,324.2 L788.0,324.6 L791.0,325.1 L794.0,325.5 L797.0,326.0 L800.0,326.4" stroke="#e9967a" stroke-dasharray="21.4 7.1 3.8 7.2"/>
</g>
<g fill="#9400d3"><circle cx="261.6" cy="97.6" r="6.7"/><circle cx="355.6" cy="182.4" r="6.7"/><circle cx="396.0" cy="201.6" r="6.7"/><circle cx="490.0" cy="234.4" r="6.7"/><circle cx="530.6" cy="245.0" r="6.7"/><circle cx="541.6" cy="248.0" r="6.7"/><circle cx="625.0" cy="267.4" r="6.7"/><circle cx="665.4" cy="275.6" r="6.7"/><circle cx="759.4" cy="287.0" r="6.7"/></g>
<g fill="#e9967a"><circle cx="261.6" cy="120.0" r="6.7"/><circle cx="355.6" cy="188.4" r="6.7"/><circle cx="396.0" cy="207.6" r="6.7"/><circle cx="490.0" cy="240.6" r="6.7"/><circle cx="530.6" cy="254.0" r="6.7"/><circle cx="541.6" cy="256.6" r="6.7"/><circle cx="625.0" cy="276.0" r="6.7"/><circle cx="665.4" cy="284.4" r="6.7"/></g>
<g font-size="27.5" opacity="0.999">
<text x="110.8" y="20.4" text-anchor="end">2</text>
<text x="110.8" y="76.8" text-anchor="end">1.8</text>
<text x="110.8" y="133.1" text-anchor="end">1.6</text>
<text x="110.8" y="189.5" text-anchor="end">1.4</text>
<text x="110.8" y="245.8" text-anchor="end">1.2</text>
<text x="110.8" y="302.2" text-anchor="end">1</text>
<text x="110.8" y="358.5" text-anchor="end">0.8</text>
<text x="110.8" y="414.9" text-anchor="end">0.6</text>
<text x="110.8" y="471.2" text-anchor="end">0.4</text>
<text x="106.1" y="530"><tspan>10</tspan><tspan font-size="22.0" dx="-0.8" dy="-13.8">5</tspan></text>
<text x="240.7" y="530"><tspan>10</tspan><tspan font-size="22.0" dx="-0.8" dy="-13.8">6</tspan></text>
<text x="375.3" y="530"><tspan>10</tspan><tspan font-size="22.0" dx="-0.8" dy="-13.8">7</tspan></text>
<text x="509.9" y="530"><tspan>10</tspan><tspan font-size="22.0" dx="-0.8" dy="-13.8">8</tspan></text>
<text x="644.5" y="530"><tspan>10</tspan><tspan font-size="22.0" dx="-0.8" dy="-13.8">9</tspan></text>
<text x="773.0" y="530"><tspan>10</tspan><tspan font-size="22.0" dx="-0.8" dy="-13.8">10</tspan></text>
<text x="463.3" y="568" text-anchor="middle">Time [yr]</text>
<text transform="translate(21.2,251) rotate(-90)" text-anchor="middle">Radius [R<tspan font-size="22.0" dy="8.8">Jupiter</tspan><tspan dy="-8.8">]</tspan></text>
</g>
</svg></body></html>
